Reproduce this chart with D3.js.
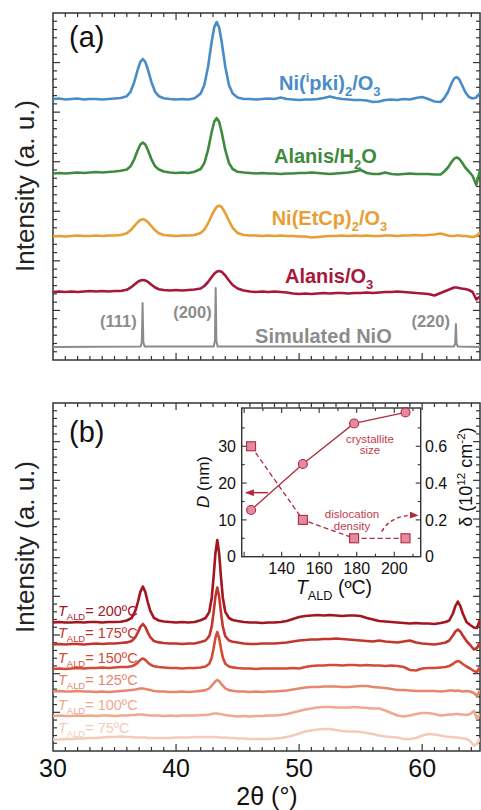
<!DOCTYPE html>
<html><head><meta charset="utf-8">
<script src="https://cdn.jsdelivr.net/npm/d3@7"></script>
<style>
body{margin:0;background:#fff}
svg{display:block}
text{font-family:"Liberation Sans", Arial, Helvetica, sans-serif}
</style>
</head><body>
<svg id="c" width="481" height="810"></svg>
<script>
// ---------------- DATA ----------------
// Panel (a): 2θ grid and stacked intensities (a.u., offset included)
const xA = [30,30.5,31,31.5,32,32.5,33,33.5,34,34.5,35,35.5,
 36,36.3,36.6,36.9,37.1,37.3,37.5,37.7,38,38.3,38.6,
 39,39.5,40,40.5,41,41.5,42,
 42.3,42.6,42.9,43.1,43.3,43.5,43.7,44,44.3,44.6,
 45,45.5,46,46.5,47,47.5,48,48.5,49,49.5,50,50.5,51,51.5,52,52.5,53,53.5,54,54.5,55,55.5,56,56.5,57,57.5,58,58.5,59,59.5,60,60.5,61,61.5,
 61.8,62.1,62.4,62.6,62.8,63,63.2,63.5,63.8,64.1,64.4,64.7];
const aNiPki = [261,261.5,260.5,261,261.5,260.5,261,261,260.5,261,261.5,262,
 263.8,268.2,277.8,291,298.2,301,298.2,291,277.8,268.2,263.8,
 261.8,261,260.5,261,260.5,261.8,266.4,
 274.9,293.3,318.8,332.6,338,332.6,318.8,293.3,274.9,266.4,
 262.5,261,261,260.5,261,261.5,261,262.5,261,260.5,260,260.5,260.5,261,262,263.5,262,261,260.5,260,260,259.5,258,258.5,260,260.5,260,261,260.5,262,263,261,258.5,258,
 262,268,277,281.5,283,281,276,268,263,261.5,262.5,267];
const aAlanisH2O = [186.5,187,186.5,187,187.5,187,187.5,188,187.5,188,188.5,189.2,
 190.5,193.7,200.7,210.3,215.5,217.5,215.5,210.3,200.7,193.7,190.5,
 188.5,187.5,187,187.5,187,188.3,191,
 196.9,210.1,228.3,238.2,242,238.2,228.3,210.1,196.9,191,
 188.2,187.5,187,186.5,187,186.5,186.5,186,186.5,186.5,187,187,187.5,187,186.5,186,186.5,187,187.5,188.5,190,187,186,186,187.5,186,185.5,186,186.5,186,186,186,185.5,185.5,
 188.5,192.5,198.2,201.3,202.5,201.3,198.2,192.5,188.5,184,175,190];
const aNiEtCp = [123.5,124,123.5,124,124.5,124,124,124.5,124,124.5,124.5,125,
 126.7,129.7,133.9,138,140,140.7,140,138,133.9,129.7,126.7,
 125,124.5,124,124.5,124.5,125,127,
 130.4,136.7,144.6,149.4,153,154.3,153,147,139.2,132.2,
 127,125,124.5,124.5,124,124.5,124,124.5,124,124,123.5,123.5,122.5,123,123.5,124,124,124.5,124,124.5,124,124.5,124,124,124.5,124.5,124,124.5,124.5,125,124.5,125,125.5,126.5,
 125.5,124.5,124,124,124.5,124.5,124,124,123.5,123,124,127.5];
const aAlanisO3 = [68,68.5,68,68.5,68,68.5,69,68.5,69,68.5,69,69,
 70.2,72.3,75.3,78.3,79.5,80,79.5,78.3,75.3,72.5,70.8,
 70,69.5,70,69.5,70,70.5,71.5,
 74,78,83,86.2,88.3,89,88.3,84.5,79.5,75,
 71.5,69.5,68.5,68,68.5,68,68.5,68,67.5,66.5,66,66.5,66,66.5,67,66.5,67,67,66.5,67,67,67.5,67,67.5,68,68,68.5,68,67.5,67,66.5,66,64.5,67,
 68.5,70,71.5,72.5,72.5,72,71.5,71,70,68,60.5,63.5];
const simX = [30,37.12,37.22,37.28,37.34,37.44,43.06,43.16,43.22,43.28,43.38,62.58,62.68,62.74,62.8,62.9,64.7];
const simY = [13,13.5,18,57,18,13.5,13.5,19,72,19,13.5,13.5,16,36,16,13.5,13];

// Panel (b): 2θ grid and stacked intensities per deposition temperature
const xB = [30,30.5,31,31.5,32,32.5,33,33.5,34,34.5,35,35.5,
 36,36.4,36.7,36.9,37.1,37.3,37.5,37.7,37.9,38.2,38.6,
 39,39.5,40,40.5,41,41.5,42,
 42.4,42.7,42.9,43.05,43.2,43.35,43.5,43.65,43.8,44,44.3,44.6,
 45,45.5,46,46.5,47,47.5,48,48.5,49,49.5,50,50.5,51,51.5,52,52.5,53,53.5,54,54.5,55,55.5,56,56.5,57,57.5,58,58.5,59,59.5,60,60.5,61,61.5,
 61.9,62.2,62.5,62.7,62.9,63.1,63.3,63.6,63.9,64.2,64.45,64.7];
const b200 = [128.5,129,128.5,128.5,129,128.5,129,129,128.5,129,129,129.3,
 130.5,133.2,140.4,149,159.1,164.5,159.1,149,140.4,133.2,130.5,
 129.5,129,128.5,129,128.5,129,130.7,
 133,139.2,153.3,173.9,197.8,211,197.8,173.9,153.3,139.2,133,131,
 130,129,128.5,128.5,128,128.5,128.5,129,130,132,134,135,135.5,136,135.5,136,135.5,135,135.5,135.5,135,133,131.5,130,129.5,129,128.5,128,127.5,128,127.5,127.5,127,128,
 129,130.5,137.5,145,149.5,145,137.5,129,126,123.5,123,131];
const b175 = [106.5,107,106.5,107,107,106.5,107,107.5,107,107.5,107.5,108,
 108.6,110,113.9,118.6,124.1,127,124.1,118.6,113.9,110,108.6,
 108,107.5,107.5,107,107.5,107.5,109,
 110.5,114.8,124.3,138.3,154.5,163.5,154.5,138.3,124.3,114.8,110.5,109.2,
 108.5,107.5,107,107,107.5,107.5,107.5,108,108.5,109.5,110.5,111,111.5,111.5,112,112,112.5,112,111.5,111,110.5,110,109.5,110.5,109.5,109,108.5,109.5,110.5,108.5,107.5,107,106.5,107.5,
 108.5,110.5,115.5,119.5,121.5,119.5,115.5,110,106,101.5,103,108];
const b150 = [82,82.5,82,82.5,83,82.5,83,83,83.5,83,83.5,84,
 84,84.7,86.5,88.6,91.2,92.5,91.2,88.6,86.5,84.7,84,
 83.5,83,83,82.5,83,83,83.5,
 84.5,87.2,93.5,102.6,113.2,119,113.2,102.6,93.5,87.2,84.5,83.6,
 83,82.5,82.5,82,82.5,82.5,82.5,82.5,82.5,83,82.5,84,85,85.5,85.5,86,86,85.5,86,86,85.5,86,85.5,85.5,85,85.5,85,84,81,80.5,82.5,83,83,83.5,
 84,85,87,89,90,89,87,84.5,82.5,80,79,84];
const b125 = [59.5,60,59.5,59.5,60,59.5,59.5,59,59.5,59,59.5,60,
 60.5,61,61.5,62,62.5,62.5,62,61.5,61,60,59.5,
 59.5,59,59,59.5,59,59.5,60.1,
 60.9,62.7,65.3,67.5,69.9,71,69.9,67.5,65.3,62.7,60.9,60.2,
 59.5,59.5,59,59.5,59,59.5,59.5,60,60.5,61.5,62.5,63.5,64,64,64.5,64.5,64.5,64,64,64.5,65,65,64,63.5,63,62,61,61,60.5,60,60,60,60,59.5,
 60,60.5,60.5,60,60.5,60,59.5,60,59.5,58,55,61];
const b100 = [35,35.5,35,35,35.5,35,35.5,35,35.5,35.5,35,35.5,
 35.5,36,36,36.5,36.5,36.5,36,36,35.5,35.5,35.5,
 35,35.5,35,35.5,35.5,35.5,36,
 36,36.5,37,37.5,37.5,37.5,37,37,36.5,36,35.5,35,
 34.5,35,34.5,35,35,35.5,35.5,36,37,38.5,40,41.5,42.5,43.5,44,44,43.5,43.5,43.5,44,43.5,43,42.5,42.5,40.5,38,35.5,34.5,35.5,37,38,38,37,35.5,
 36,36.5,36.5,37,37,36.5,36.5,36,37,40,32.5,37];
const b75 = [11.5,11.5,12,12,12.5,12.5,13,13,13.5,14,14,14.5,
 14,14,13.5,13.5,13.5,13.5,13.5,13,13,13,13,
 13,13,13.5,13.5,13.5,14,14,
 14,14,14,14,14,14,13.5,13.5,13.5,13.5,13,13,
 12.5,12.5,12,12,12,12,12.5,13,14,15.5,17.5,19.5,20.5,21.5,22,22,21,20,19.5,19.5,19,18,17,15.5,14.5,14,13.5,12,12,13,15.5,17,16.5,15.5,
 14.5,14,14,13.5,13.5,13,12.5,12,10,5.5,7,12.5];
const tempLabels = ["200ºC","175ºC","150ºC","125ºC","100ºC","75ºC"];

// Inset
const insetT = [123.7, 151.3, 178.6, 206];
const insetD = [12.7, 25.2, 36.2, 39.2];
const insetDelta = [0.6, 0.2, 0.1, 0.1];
const insetTTicks = [140, 160, 180, 200];
const insetDTicks = [0, 10, 20, 30];
const insetDeltaTicks = [0, 0.2, 0.4, 0.6];
const xTickLabels = [30, 40, 50, 60];

// ---------------- DRAW ----------------
const svg = d3.select("#c");
const FRAME = "#333";
const x = d3.scaleLinear().domain([30, 64.7]).range([53, 480]);
const ya = d3.scaleLinear().domain([0, 347]).range([360, 13]);
const yb = d3.scaleLinear().domain([0, 348]).range([751, 403]);

function rich(g, x0, y0, parts, o) {
  const fs = o.size;
  const t = g.append("text").attr("x", x0).attr("y", y0)
    .attr("font-size", fs).attr("fill", o.fill || "#222")
    .attr("font-weight", o.weight || "normal")
    .attr("text-anchor", o.anchor || "start");
  if (o.transform) t.attr("transform", o.transform);
  let cur = 0;
  parts.forEach(p => {
    const target = p.sub ? fs * 0.3 : p.sup ? -fs * 0.38 : 0;
    const s = t.append("tspan").text(p.t).attr("dy", target - cur);
    cur = target;
    if (p.sub || p.sup) s.attr("font-size", fs * 0.65);
    if (p.it) s.attr("font-style", "italic");
  });
  return t;
}

function panel(id, yS, dmax, nMaj, per) {
  const [b, t] = yS.range();
  const g = svg.append("g");
  svg.append("clipPath").attr("id", id).append("rect")
    .attr("x", 53).attr("y", t).attr("width", 427).attr("height", b - t);
  d3.range(31, 65).forEach(v => {
    const L = v % 10 === 0 ? 7 : 4;
    g.append("line").attr("x1", x(v)).attr("x2", x(v)).attr("y1", b).attr("y2", b - L).attr("stroke", FRAME).attr("stroke-width", 1.2);
    g.append("line").attr("x1", x(v)).attr("x2", x(v)).attr("y1", t).attr("y2", t + L).attr("stroke", FRAME).attr("stroke-width", 1.2);
  });
  const n = nMaj * per;
  d3.range(1, n).forEach(i => {
    const v = i * dmax / n, L = i % per === 0 ? 7 : 4, yy = yS(v);
    g.append("line").attr("x1", 53).attr("x2", 53 + L).attr("y1", yy).attr("y2", yy).attr("stroke", FRAME).attr("stroke-width", 1.2);
    g.append("line").attr("x1", 480).attr("x2", 480 - L).attr("y1", yy).attr("y2", yy).attr("stroke", FRAME).attr("stroke-width", 1.2);
  });
  g.append("rect").attr("x", 53).attr("y", t).attr("width", 427).attr("height", b - t)
    .attr("fill", "none").attr("stroke", FRAME).attr("stroke-width", 1.5);
  return g;
}

const gA = panel("clipA", ya, 347, 7, 6);
const gB = panel("clipB", yb, 348, 9, 5);

// Panel (a) traces
const lineA = d3.line().x((d, i) => x(xA[i])).y(d => ya(d));
const seriesA = [
  {v: aNiPki, c: "#4a8cc6"},
  {v: aAlanisH2O, c: "#3f8a3f"},
  {v: aNiEtCp, c: "#e89e33"},
  {v: aAlanisO3, c: "#a8173a"}
];
const tA = svg.append("g").attr("clip-path", "url(#clipA)");
seriesA.forEach(s => tA.append("path").attr("d", lineA(s.v)).attr("fill", "none")
  .attr("stroke", s.c).attr("stroke-width", 2.6).attr("stroke-linejoin", "round"));
tA.append("path").attr("d", d3.line().x((d, i) => x(simX[i])).y(d => ya(d))(simY))
  .attr("fill", "none").attr("stroke", "#8c8c8c").attr("stroke-width", 2).attr("stroke-linejoin", "round");

// Panel (a) labels
rich(svg, x(48.37), ya(270), [{t:"Ni("},{t:"i",sup:1},{t:"pki)"},{t:"2",sub:1},{t:"/O"},{t:"3",sub:1}], {size:20, weight:"bold", fill:"#4a8cc6"});
rich(svg, x(47.96), ya(196.7), [{t:"Alanis/H"},{t:"2",sub:1},{t:"O"}], {size:20, weight:"bold", fill:"#3f8a3f"});
rich(svg, x(47.77), ya(135), [{t:"Ni(EtCp)"},{t:"2",sub:1},{t:"/O"},{t:"3",sub:1}], {size:20, weight:"bold", fill:"#e89e33"});
rich(svg, x(48.85), ya(76.7), [{t:"Alanis/O"},{t:"3",sub:1}], {size:20, weight:"bold", fill:"#a8173a"});
rich(svg, x(46.42), ya(17.3), [{t:"Simulated NiO"}], {size:20, weight:"bold", fill:"#8c8c8c"});
rich(svg, x(36.8), ya(33.3), [{t:"(111)"}], {size:16.5, weight:"bold", fill:"#8c8c8c", anchor:"end"});
rich(svg, x(42.9), ya(41.7), [{t:"(200)"}], {size:16.5, weight:"bold", fill:"#8c8c8c", anchor:"end"});
rich(svg, x(62.26), ya(33.3), [{t:"(220)"}], {size:16.5, weight:"bold", fill:"#8c8c8c", anchor:"end"});
svg.append("text").attr("x", 69).attr("y", 47).attr("font-size", 29).attr("fill", "#111").text("(a)");

// Panel (b) traces
const lineB = d3.line().x((d, i) => x(xB[i])).y(d => yb(d));
const seriesB = [
  {v: b200, c: "#a3151f"},
  {v: b175, c: "#c2362c"},
  {v: b150, c: "#d44a36"},
  {v: b125, c: "#e6876c"},
  {v: b100, c: "#efa98f"},
  {v: b75, c: "#f4cbb8"}
];
const tB = svg.append("g").attr("clip-path", "url(#clipB)");
seriesB.slice().reverse().forEach(s => tB.append("path").attr("d", lineB(s.v)).attr("fill", "none")
  .attr("stroke", s.c).attr("stroke-width", 2.6).attr("stroke-linejoin", "round"));
seriesB.forEach((s, i) => {
  rich(svg, 58, yb(s.v[0]) - 6.5, [{t:"T", it:1},{t:"ALD",sub:1},{t:"= " + tempLabels[i]}], {size:14.5, fill:s.c});
});
svg.append("text").attr("x", 69).attr("y", 442).attr("font-size", 29).attr("fill", "#111").text("(b)");

// x tick labels & titles
xTickLabels.forEach(v => svg.append("text").attr("x", x(v)).attr("y", 777).attr("text-anchor", "middle")
  .attr("font-size", 25).attr("fill", "#111").text(v));
svg.append("text").attr("x", 267).attr("y", 805).attr("text-anchor", "middle").attr("font-size", 25).attr("fill", "#111").text("2θ (°)");
svg.append("text").attr("transform", "translate(34,186) rotate(-90)").attr("text-anchor", "middle").attr("font-size", 26).attr("fill", "#222").text("Intensity (a. u.)");
svg.append("text").attr("transform", "translate(34,547) rotate(-90)").attr("text-anchor", "middle").attr("font-size", 26).attr("fill", "#222").text("Intensity (a. u.)");

// ---------------- INSET ----------------
const IC = "#b3283c";
const xi = d3.scaleLinear().domain([118.7, 214.1]).range([241.7, 420.7]);
const yiD = d3.scaleLinear().domain([0, 40.4]).range([556.7, 408]);
const yiR = d3.scaleLinear().domain([0, 0.808]).range([556.7, 408]);
const gi = svg.append("g");
gi.append("rect").attr("x", 241.7).attr("y", 408).attr("width", 179).attr("height", 148.7).attr("fill", "#fff");
d3.range(120, 211, 10).forEach(v => {
  const L = v % 20 === 0 ? 5 : 3;
  gi.append("line").attr("x1", xi(v)).attr("x2", xi(v)).attr("y1", 556.7).attr("y2", 556.7 - L).attr("stroke", FRAME).attr("stroke-width", 1.1);
  gi.append("line").attr("x1", xi(v)).attr("x2", xi(v)).attr("y1", 408).attr("y2", 408 + L).attr("stroke", FRAME).attr("stroke-width", 1.1);
});
d3.range(5, 40, 5).forEach(v => {
  const L = v % 10 === 0 ? 5 : 3;
  gi.append("line").attr("x1", 241.7).attr("x2", 241.7 + L).attr("y1", yiD(v)).attr("y2", yiD(v)).attr("stroke", FRAME).attr("stroke-width", 1.1);
});
d3.range(1, 8).forEach(i => {
  const v = i / 10, L = i % 2 === 0 ? 5 : 3;
  gi.append("line").attr("x1", 420.7).attr("x2", 420.7 - L).attr("y1", yiR(v)).attr("y2", yiR(v)).attr("stroke", FRAME).attr("stroke-width", 1.1);
});
gi.append("rect").attr("x", 241.7).attr("y", 408).attr("width", 179).attr("height", 148.7)
  .attr("fill", "none").attr("stroke", FRAME).attr("stroke-width", 1.4);
insetTTicks.forEach(v => gi.append("text").attr("x", xi(v)).attr("y", 574).attr("text-anchor", "middle").attr("font-size", 16).attr("fill", "#111").text(v));
insetDTicks.forEach(v => gi.append("text").attr("x", 236).attr("y", yiD(v)).attr("dy", "0.36em").attr("text-anchor", "end").attr("font-size", 16).attr("fill", "#111").text(v));
insetDeltaTicks.forEach(v => gi.append("text").attr("x", 425).attr("y", yiR(v)).attr("dy", "0.36em").attr("text-anchor", "start").attr("font-size", 16).attr("fill", "#111").text(v));
rich(gi, 0, 0, [{t:"D", it:1},{t:" (nm)"}], {size:17, fill:"#111", anchor:"middle", transform:"translate(209,482) rotate(-90)"});
rich(gi, 0, 0, [{t:"δ (10"},{t:"12",sup:1},{t:" cm"},{t:"-2",sup:1},{t:")"}], {size:18, fill:"#111", anchor:"middle", transform:"translate(472,477) rotate(-90)"});
rich(gi, 334, 594, [{t:"T", it:1},{t:"ALD",sub:1},{t:" (ºC)"}], {size:19.5, fill:"#111", anchor:"middle"});

// arrowhead marker
const defs = svg.append("defs");
defs.append("marker").attr("id", "ah").attr("viewBox", "0 0 10 8").attr("refX", 9).attr("refY", 4)
  .attr("markerUnits", "userSpaceOnUse").attr("markerWidth", 9).attr("markerHeight", 7).attr("orient", "auto")
  .append("path").attr("d", "M0,0 L10,4 L0,8 Z").attr("fill", IC);

// D series (solid, circles)
gi.append("path").attr("d", d3.line().x((d, i) => xi(insetT[i])).y(d => yiD(d))(insetD))
  .attr("fill", "none").attr("stroke", IC).attr("stroke-width", 1.3);
// delta series (dashed, squares)
gi.append("path").attr("d", d3.line().x((d, i) => xi(insetT[i])).y(d => yiR(d))(insetDelta))
  .attr("fill", "none").attr("stroke", IC).attr("stroke-width", 1.3).attr("stroke-dasharray", "5,3");
gi.selectAll("rect.sq").data(insetDelta).join("rect").attr("class", "sq")
  .attr("x", (d, i) => xi(insetT[i]) - 4.5).attr("y", d => yiR(d) - 4.5).attr("width", 9).attr("height", 9)
  .attr("fill", "#e38aa3").attr("stroke", IC).attr("stroke-width", 1.1);
gi.selectAll("circle.ci").data(insetD).join("circle").attr("class", "ci")
  .attr("cx", (d, i) => xi(insetT[i])).attr("cy", d => yiD(d)).attr("r", 4.5)
  .attr("fill", "#e38aa3").attr("stroke", IC).attr("stroke-width", 1.1);

// annotations
gi.append("text").attr("x", xi(187)).attr("y", yiD(30.9)).attr("text-anchor", "middle").attr("font-size", 11.5).attr("fill", "#c23b4b").text("crystallite");
gi.append("text").attr("x", xi(187)).attr("y", yiD(27.8)).attr("text-anchor", "middle").attr("font-size", 11.5).attr("fill", "#c23b4b").text("size");
gi.append("text").attr("x", xi(177.5)).attr("y", yiD(10.5)).attr("text-anchor", "middle").attr("font-size", 11.5).attr("fill", "#c23b4b").text("dislocation");
gi.append("text").attr("x", xi(177.5)).attr("y", yiD(7.3)).attr("text-anchor", "middle").attr("font-size", 11.5).attr("fill", "#c23b4b").text("density");
gi.append("line").attr("x1", xi(132.7)).attr("x2", xi(121)).attr("y1", yiD(17.4)).attr("y2", yiD(17.4))
  .attr("stroke", IC).attr("stroke-width", 1.5).attr("marker-end", "url(#ah)");
gi.append("path").attr("d", `M${xi(193.3)},${yiD(6.8)} Q${xi(198.5)},${yiD(11.6)} ${xi(212.5)},${yiD(11.2)}`)
  .attr("fill", "none").attr("stroke", IC).attr("stroke-width", 1.4).attr("stroke-dasharray", "4,3").attr("marker-end", "url(#ah)");
</script>
</body></html>
